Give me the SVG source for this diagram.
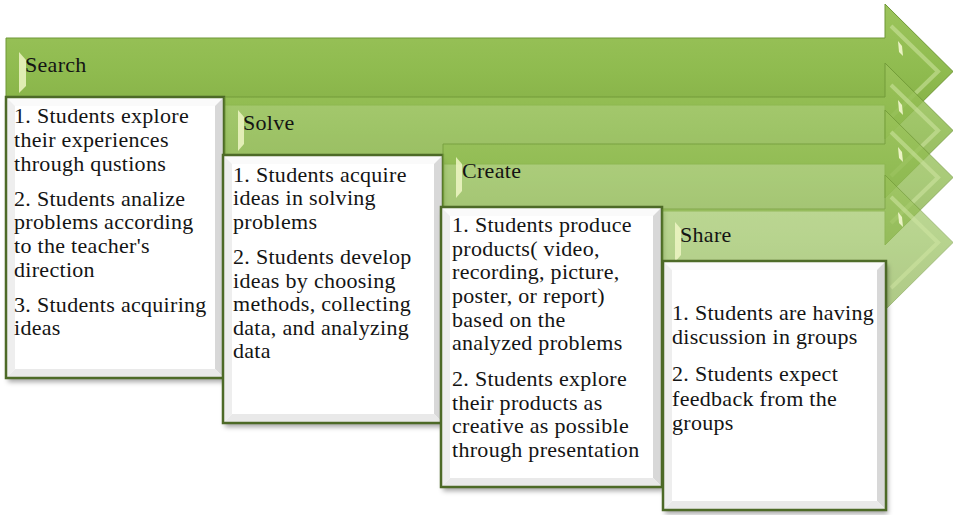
<svg xmlns="http://www.w3.org/2000/svg" width="953" height="515" viewBox="0 0 953 515">
<defs>
<linearGradient id="g1" x1="0" y1="0" x2="0" y2="1">
<stop offset="0" stop-color="#9cc45c"/><stop offset="0.5" stop-color="#8fbb4f"/><stop offset="1" stop-color="#82ab43"/>
</linearGradient>
<filter id="sh" x="-10%" y="-10%" width="125%" height="125%">
<feDropShadow dx="2" dy="4" stdDeviation="2.5" flood-color="#000" flood-opacity="0.35"/>
</filter>
<style>
.arr{fill:url(#g1);stroke:#6f9736;stroke-width:1}
.a1{opacity:1}.a2{opacity:0.86}.a3{opacity:0.76}.a4{opacity:0.64}
.bev{fill:none;stroke:#cfe6a3;stroke-width:4;opacity:0.55}
.hl{fill:#eef6c4;opacity:0.85}
.streak{fill:#f4f8d0;opacity:0.9}
.box{fill:#fff;filter:url(#sh)}
.bt{fill:#fafafa}.bl{fill:#eeeeee}.br{fill:#d8d8d8}.bb{fill:#e9e9e9}
.bo{fill:none;stroke:#4d6a27;stroke-width:2.5}
text{font-family:"Liberation Serif","Times New Roman",serif;font-size:22px;letter-spacing:0.3px;fill:#141414}
</style>
</defs>

<g id="search">
<path class="arr a1" d="M6,38 H885 V4 L953,71.5 L885,139 V105 H6 Z"/>
<path class="bev" d="M891,26 L938,71.5 L891,117"/>
<polygon class="hl" points="19,52 26,60 26,86 19,93"/>
<polygon class="streak" points="898,41 902,46 903,56 899,52"/>
<text x="25" y="72">Search</text>
<rect class="box" x="6" y="97" width="218" height="281"/>
<polygon class="bt" points="6,97 224,97 215,106 15,106"/>
<polygon class="bl" points="6,97 15,106 15,369 6,378"/>
<polygon class="br" points="224,97 224,378 215,369 215,106"/>
<polygon class="bb" points="6,378 224,378 215,369 15,369"/>
<rect class="bo" x="6" y="97" width="218" height="281"/>
<text x="14" y="123">1. Students explore</text>
<text x="14" y="147">their experiences</text>
<text x="14" y="171">through qustions</text>
<text x="14" y="206">2. Students analize</text>
<text x="14" y="229">problems according</text>
<text x="14" y="253">to the teacher's</text>
<text x="14" y="277">direction</text>
<text x="14" y="312">3. Students acquiring</text>
<text x="14" y="335">ideas</text>
</g>

<g id="solve">
<path class="arr a2" d="M225,97 H885 V63 L953,130.5 L885,198 V164 H225 Z"/>
<path class="bev" d="M891,85 L938,130.5 L891,176"/>
<polygon class="hl" points="238,110 244,117 244,144 238,151"/>
<polygon class="streak" points="898,100 902,105 903,115 899,111"/>
<text x="243" y="130">Solve</text>
<rect class="box" x="223" y="155" width="220" height="268"/>
<polygon class="bt" points="223,155 443,155 434,164 232,164"/>
<polygon class="bl" points="223,155 232,164 232,414 223,423"/>
<polygon class="br" points="443,155 443,423 434,414 434,164"/>
<polygon class="bb" points="223,423 443,423 434,414 232,414"/>
<rect class="bo" x="223" y="155" width="220" height="268"/>
<text x="233" y="182">1. Students acquire</text>
<text x="233" y="205">ideas in solving</text>
<text x="233" y="229">problems</text>
<text x="233" y="264">2. Students develop</text>
<text x="233" y="288">ideas by choosing</text>
<text x="233" y="311">methods, collecting</text>
<text x="233" y="335">data, and analyzing</text>
<text x="233" y="358">data</text>
</g>

<g id="create">
<path class="arr a3" d="M443,144 H885 V110 L953,177.5 L885,245 V211 H443 Z"/>
<path class="bev" d="M891,132 L938,177.5 L891,223"/>
<polygon class="hl" points="456,157 462,164 462,191 456,198"/>
<polygon class="streak" points="898,147 902,152 903,162 899,158"/>
<text x="462" y="178">Create</text>
<rect class="box" x="441" y="207" width="221" height="280"/>
<polygon class="bt" points="441,207 662,207 653,216 450,216"/>
<polygon class="bl" points="441,207 450,216 450,478 441,487"/>
<polygon class="br" points="662,207 662,487 653,478 653,216"/>
<polygon class="bb" points="441,487 662,487 653,478 450,478"/>
<rect class="bo" x="441" y="207" width="221" height="280"/>
<text x="452" y="232">1. Students produce</text>
<text x="452" y="256">products( video,</text>
<text x="452" y="279">recording, picture,</text>
<text x="452" y="303">poster, or report)</text>
<text x="452" y="327">based on the</text>
<text x="452" y="350">analyzed problems</text>
<text x="452" y="386">2. Students explore</text>
<text x="452" y="410">their products as</text>
<text x="452" y="433">creative as possible</text>
<text x="452" y="457">through presentation</text>
</g>

<g id="share">
<path class="arr a4" d="M663,209 H885 V175 L953,242.5 L885,310 V276 H663 Z"/>
<path class="bev" d="M891,197 L938,242.5 L891,288"/>
<polygon class="hl" points="675,222 681,229 681,255 675,262"/>
<polygon class="streak" points="898,212 902,217 903,227 899,223"/>
<text x="680" y="242">Share</text>
<rect class="box" x="663" y="261" width="223" height="249"/>
<polygon class="bt" points="663,261 886,261 877,270 672,270"/>
<polygon class="bl" points="663,261 672,270 672,501 663,510"/>
<polygon class="br" points="886,261 886,510 877,501 877,270"/>
<polygon class="bb" points="663,510 886,510 877,501 672,501"/>
<rect class="bo" x="663" y="261" width="223" height="249"/>
<text x="672" y="320">1. Students are having</text>
<text x="672" y="344">discussion in groups</text>
<text x="672" y="381">2. Students expect</text>
<text x="672" y="406">feedback from the</text>
<text x="672" y="430">groups</text>
</g>

<g id="connectors"></g>
</svg>
